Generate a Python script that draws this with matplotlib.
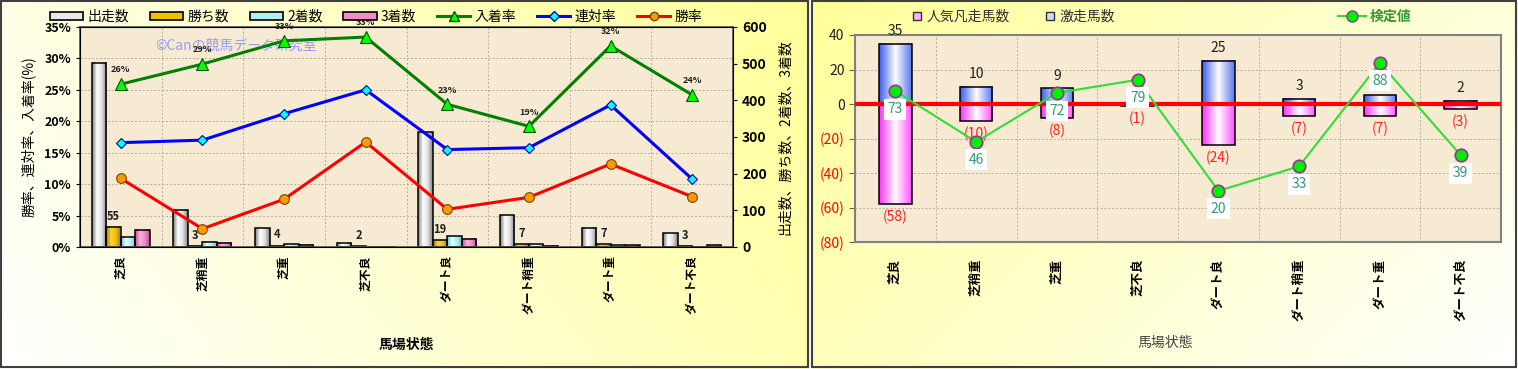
import numpy as np
import matplotlib
matplotlib.use('Agg')
import matplotlib.pyplot as plt
from matplotlib.colors import LinearSegmentedColormap
from matplotlib.patches import Rectangle, Patch
from matplotlib.lines import Line2D

plt.rcParams['font.family'] = ['Noto Sans CJK JP', 'DejaVu Sans']

# ---- data (left chart) ----
categories = ['芝良', '芝稍重', '芝重', '芝不良', 'ダート良', 'ダート稍重', 'ダート重', 'ダート不良']
starts = [502, 101, 51, 12, 313, 87, 53, 37]
wins = [55, 3, 4, 2, 19, 7, 7, 3]
seconds = [28, 14, 7, 1, 29, 7, 5, 1]
thirds = [47, 12, 6, 1, 22, 3, 5, 5]
place_rate = [25.9, 29.1, 32.8, 33.4, 22.7, 19.2, 32.0, 24.2]
rentai_rate = [16.6, 17.0, 21.2, 25.0, 15.5, 15.8, 22.6, 10.8]
win_rate = [10.9, 2.9, 7.6, 16.7, 6.0, 7.9, 13.2, 8.0]

# ---- data (right chart) ----
hot_counts = [35, 10, 9, 0, 25, 3, 5, 2]
flop_counts = [58, 10, 8, 1, 24, 7, 7, 3]
test_values = [73, 46, 72, 79, 20, 33, 88, 39]

W, H = 1518, 369
fig = plt.figure(figsize=(W / 100, H / 100), dpi=100)


def px_rect(x0, y0, x1, y1):
    return [x0 / W, 1 - y1 / H, (x1 - x0) / W, (y1 - y0) / H]


# panel backgrounds
yy, xx = np.mgrid[0:H, 0:W]
img = np.ones((H, W, 3))
u = xx / 808.0
v = yy / 368.0
wl = np.clip(1 - (0.75 * u + 0.25 * (1 - v)), 0, 1)
wr = np.clip(0.65 * (xx - 812) / 704.0 + 0.35 * v, 0, 1)
blue_ch = img[..., 2]
blue_ch[xx < 810] = (0.6 + 0.4 * wl)[xx < 810]
blue_ch[xx >= 812] = (0.6 + 0.4 * wr)[xx >= 812]
bg = fig.add_axes([0, 0, 1, 1])
bg.imshow(img, extent=(0, W, H, 0), aspect='auto')
bg.set_xlim(0, W)
bg.set_ylim(H, 0)
bg.axis('off')
bg.add_patch(Rectangle((1, 1), 807, 366, fill=False, ec='#404040', lw=1.5))
bg.add_patch(Rectangle((812, 1), 704, 366, fill=False, ec='#404040', lw=1.5))


def grad_bar(ax, xc, w, y0, y1, colors, z=2):
    if y1 > y0:
        cmap = LinearSegmentedColormap.from_list('g', colors)
        grad = np.linspace(0, 1, 64).reshape(1, -1)
        ax.imshow(grad, cmap=cmap, extent=(xc - w / 2, xc + w / 2, y0, y1),
                  aspect='auto', zorder=z, interpolation='bilinear')
    ax.add_patch(Rectangle((xc - w / 2, y0), w, y1 - y0, fill=False,
                           ec='black', lw=1.1, zorder=z + 0.1))


n = len(categories)
x = np.arange(n)
plot_bg = '#F6EAD2'
grid_kw = dict(color='#b8ad9c', lw=0.7, ls=(0, (2, 2)), zorder=1)

# ================= left chart =================
ax = fig.add_axes(px_rect(80, 27, 733, 247))
ax.set_facecolor(plot_bg)
for k in range(1, 7):
    ax.axhline(k * 600 / 7, **grid_kw)
for b in np.arange(0.5, n - 0.5):
    ax.axvline(b, **grid_kw)

bw = 0.178
offsets = np.array([-1.5, -0.5, 0.5, 1.5]) * bw
bar_series = [
    (starts, ['#7c7c7c', '#ffffff', '#e0e0e0', '#808080']),
    (wins, ['#a07c00', '#ffd23a', '#f0c000', '#a07c00']),
    (seconds, ['#70c0c8', '#e6ffff', '#b0eef4', '#70c0c8']),
    (thirds, ['#c04c90', '#ffb0dc', '#ee8cc6', '#c04c90']),
]
for i, (vals, cols) in enumerate(bar_series):
    for j in range(n):
        grad_bar(ax, x[j] + offsets[i], bw, 0, vals[j], cols)
for j in range(n):
    ax.annotate(str(wins[j]), (x[j] + offsets[1], wins[j]), xytext=(0, 3),
                textcoords='offset points', ha='center', va='bottom',
                fontsize=8, fontweight='bold', color='#202020')

ax.set_xlim(-0.5, n - 0.5)
ax.set_ylim(0, 600)
ax.set_xticks(x)
ax.set_xticklabels(categories, rotation=90, fontsize=8.5, fontweight='bold', va='top')
ax.tick_params(axis='x', length=0, pad=6)
ax.set_yticks(range(0, 601, 100))
for s in ax.spines.values():
    s.set_color('#505050')
    s.set_linewidth(1.2)

axl = ax.twinx()
axl.set_ylim(0, 35)
axl.set_xlim(-0.5, n - 0.5)
axl.yaxis.tick_left()
axl.yaxis.set_label_position('left')
ax.yaxis.tick_right()
ax.yaxis.set_label_position('right')
axl.set_yticks(range(0, 36, 5))
axl.set_yticklabels([f'{t}%' for t in range(0, 36, 5)], fontsize=9, fontweight='bold')
ax.set_yticklabels([str(t) for t in range(0, 601, 100)], fontsize=10, fontweight='bold')
axl.tick_params(axis='y', length=3, direction='out')
ax.tick_params(axis='y', length=3, direction='out')
axl.set_ylabel('勝率、連対率、入着率(%)', fontsize=10, labelpad=6)
ax.set_ylabel('出走数、勝ち数、2着数、3着数', fontsize=10, labelpad=8)

axl.text(0.115, 0.895, '©Canの競馬データ研究室', transform=axl.transAxes,
         color='#9a9aff', fontsize=10, zorder=0)

axl.plot(x, place_rate, color='#008000', lw=2.2, marker='^', ms=8,
         mfc='#00ff00', mec='#005000', mew=0.8, zorder=4, clip_on=False)
axl.plot(x, rentai_rate, color='#0000ff', lw=2.2, marker='D', ms=5.5,
         mfc='#00ffff', mec='#0000a0', mew=0.8, zorder=4, clip_on=False)
axl.plot(x, win_rate, color='#ff0000', lw=2.2, marker='o', ms=7,
         mfc='#ff9900', mec='#804000', mew=0.8, zorder=4, clip_on=False)
for j in range(n):
    axl.annotate(f'{place_rate[j]:.0f}%', (x[j], place_rate[j]), xytext=(0, 7),
                 textcoords='offset points', ha='center', va='bottom',
                 fontsize=6.5, fontweight='bold', color='#202020', annotation_clip=False)

fig.text(406 / W, 1 - 345 / H, '馬場状態', ha='center', va='center',
         fontsize=10, fontweight='bold')

left_handles = [
    Patch(facecolor='#e8e8e8', edgecolor='black', lw=1.2),
    Patch(facecolor='#f0c000', edgecolor='black', lw=1.2),
    Patch(facecolor='#b0eef4', edgecolor='black', lw=1.2),
    Patch(facecolor='#ee8cc6', edgecolor='black', lw=1.2),
    Line2D([], [], color='#008000', lw=2.2, marker='^', ms=7, mfc='#00ff00', mec='#005000'),
    Line2D([], [], color='#0000ff', lw=2.2, marker='D', ms=5, mfc='#00ffff', mec='#0000a0'),
    Line2D([], [], color='#ff0000', lw=2.2, marker='o', ms=6, mfc='#ff9900', mec='#804000'),
]
left_labels = ['出走数', '勝ち数', '2着数', '3着数', '入着率', '連対率', '勝率']
fig.legend(left_handles, left_labels, loc='center', bbox_to_anchor=(376 / W, 1 - 17 / H),
           ncol=7, frameon=False, fontsize=10, handlelength=2.4, handleheight=0.55,
           columnspacing=1.5, handletextpad=0.3)

# ================= right chart =================
axr = fig.add_axes(px_rect(855, 35, 1501, 242))
axr.set_facecolor(plot_bg)
for t in range(-60, 40, 20):
    if t != 0:
        axr.axhline(t, **grid_kw)
for b in np.arange(0.5, n - 0.5):
    axr.axvline(b, **grid_kw)

bwr = 0.40
for j in range(n):
    grad_bar(axr, x[j], bwr, 0, hot_counts[j], ['#3c5cf0', '#ffffff', '#5878f0'])
    grad_bar(axr, x[j], bwr, -flop_counts[j], 0, ['#ff30ff', '#ffffff', '#ff50ff'])
    axr.annotate(str(hot_counts[j]), (x[j], hot_counts[j]), xytext=(0, 4),
                 textcoords='offset points', ha='center', va='bottom',
                 fontsize=10, color='#202020', zorder=3)
    axr.annotate(f'({flop_counts[j]})', (x[j], -flop_counts[j]), xytext=(0, -4),
                 textcoords='offset points', ha='center', va='top',
                 fontsize=10, color='#ff2020', zorder=3)
axr.axhline(0, color='#ff0000', lw=3, zorder=4)

axr.set_xlim(-0.5, n - 0.5)
axr.set_ylim(-80, 40)
rticks = list(range(-80, 41, 20))
axr.set_yticks(rticks)
axr.set_yticklabels([str(t) if t >= 0 else f'({-t})' for t in rticks], fontsize=10)
for lab, t in zip(axr.get_yticklabels(), rticks):
    lab.set_color('#ff0000' if t < 0 else '#202020')
axr.tick_params(axis='y', length=4, direction='out', color='#606060')
axr.set_xticks(x)
axr.set_xticklabels(categories, rotation=90, fontsize=9, fontweight='bold', va='top')
axr.tick_params(axis='x', length=0, pad=12)
for s in axr.spines.values():
    s.set_color('#808080')
    s.set_linewidth(1.5)

axr2 = axr.twinx()
axr2.set_ylim(-7.2, 102.8)
axr2.set_xlim(-0.5, n - 0.5)
axr2.yaxis.set_visible(False)
for s in axr2.spines.values():
    s.set_visible(False)
axr2.plot(x, test_values, color='#33dd33', lw=1.5, marker='o', ms=9,
          mfc='#00ee00', mec='#993399', mew=1.2, zorder=5)
for j in range(n):
    axr2.annotate(str(test_values[j]), (x[j], test_values[j]), xytext=(0, -13),
                  textcoords='offset points', ha='center', va='center',
                  fontsize=10, color='#339977', zorder=6,
                  bbox=dict(boxstyle='square,pad=0.25', fc='white', ec='none'))

fig.text(1165 / W, 1 - 343 / H, '馬場状態', ha='center', va='center',
         fontsize=10, color='#404040')

right_handles = [
    Line2D([], [], ls='none', marker='s', ms=6, mfc='#ffb0ff', mec='#303030'),
    Line2D([], [], ls='none', marker='s', ms=6, mfc='#d0dcff', mec='#303030'),
]
fig.legend(right_handles, ['人気凡走馬数', '激走馬数'], loc='center',
           bbox_to_anchor=(1013 / W, 1 - 17 / H), ncol=2, frameon=False, fontsize=10,
           handlelength=0.8, handletextpad=0.3, columnspacing=2.5, labelcolor='#303030')
fig.legend([Line2D([], [], color='#33dd33', lw=1.5, marker='o', ms=8,
                   mfc='#00ee00', mec='#993399')], ['検定値'], loc='center',
           bbox_to_anchor=(1375 / W, 1 - 17 / H), frameon=False, fontsize=10,
           handlelength=2.0, handletextpad=0.3, labelcolor='#339933',
           prop={'weight': 'bold', 'size': 10})

fig.savefig('out.png', dpi=100)
